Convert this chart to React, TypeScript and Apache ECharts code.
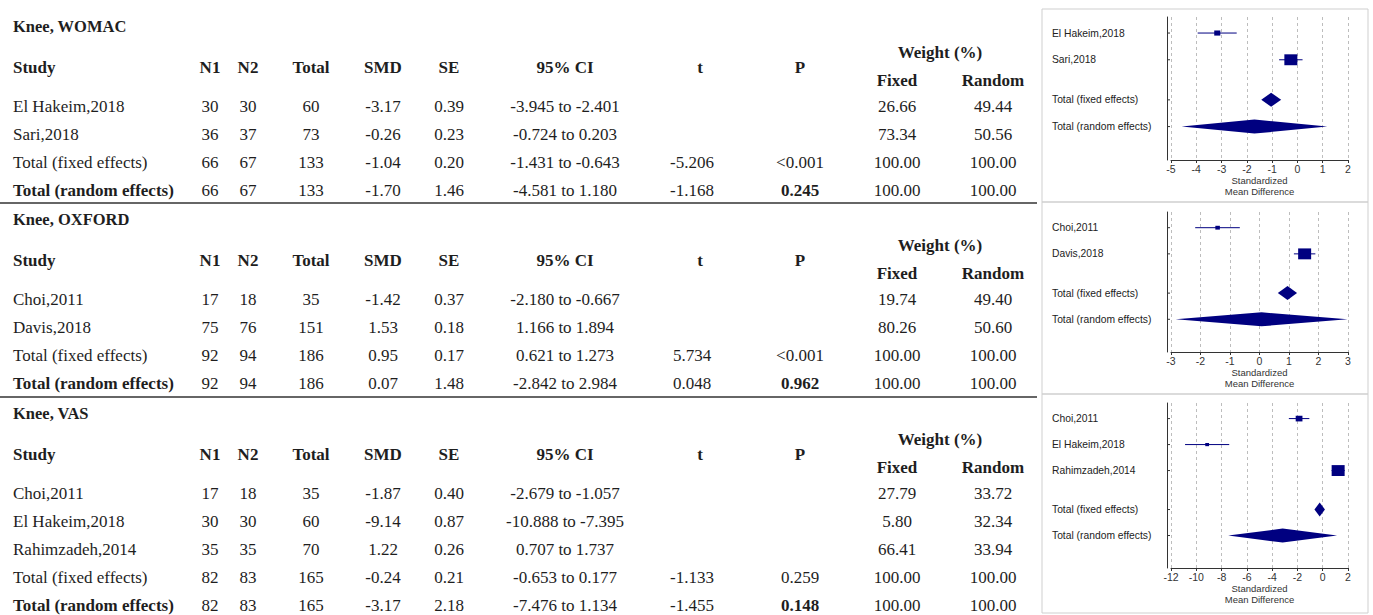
import React, { useEffect, useRef } from "react";
import * as echarts from "echarts";

// ---------------- Knee, WOMAC ----------------
const womacStudy = ["El Hakeim,2018", "Sari,2018", "Total (fixed effects)", "Total (random effects)"];
const womacN1 = [30, 36, 66, 66];
const womacN2 = [30, 37, 67, 67];
const womacTotal = [60, 73, 133, 133];
const womacSMD = [-3.17, -0.26, -1.04, -1.7];
const womacSE = [0.39, 0.23, 0.2, 1.46];
const womacLow = [-3.945, -0.724, -1.431, -4.581];
const womacHigh = [-2.401, 0.203, -0.643, 1.18];
const womacT = [null, null, -5.206, -1.168];
const womacP = ["", "", "<0.001", "0.245"];
const womacWFixed = [26.66, 73.34, 100, 100];
const womacWRandom = [49.44, 50.56, 100, 100];
const womacAxis = [-5, 2, 1];

// ---------------- Knee, OXFORD ----------------
const oxfordStudy = ["Choi,2011", "Davis,2018", "Total (fixed effects)", "Total (random effects)"];
const oxfordN1 = [17, 75, 92, 92];
const oxfordN2 = [18, 76, 94, 94];
const oxfordTotal = [35, 151, 186, 186];
const oxfordSMD = [-1.42, 1.53, 0.95, 0.07];
const oxfordSE = [0.37, 0.18, 0.17, 1.48];
const oxfordLow = [-2.18, 1.166, 0.621, -2.842];
const oxfordHigh = [-0.667, 1.894, 1.273, 2.984];
const oxfordT = [null, null, 5.734, 0.048];
const oxfordP = ["", "", "<0.001", "0.962"];
const oxfordWFixed = [19.74, 80.26, 100, 100];
const oxfordWRandom = [49.4, 50.6, 100, 100];
const oxfordAxis = [-3, 3, 1];

// ---------------- Knee, VAS ----------------
const vasStudy = ["Choi,2011", "El Hakeim,2018", "Rahimzadeh,2014", "Total (fixed effects)", "Total (random effects)"];
const vasN1 = [17, 30, 35, 82, 82];
const vasN2 = [18, 30, 35, 83, 83];
const vasTotal = [35, 60, 70, 165, 165];
const vasSMD = [-1.87, -9.14, 1.22, -0.24, -3.17];
const vasSE = [0.4, 0.87, 0.26, 0.21, 2.18];
const vasLow = [-2.679, -10.888, 0.707, -0.653, -7.476];
const vasHigh = [-1.057, -7.395, 1.737, 0.177, 1.134];
const vasT = [null, null, null, -1.133, -1.455];
const vasP = ["", "", "", "0.259", "0.148"];
const vasWFixed = [27.79, 5.8, 66.41, 100, 100];
const vasWRandom = [33.72, 32.34, 33.94, 100, 100];
const vasAxis = [-12, 2, 2];

const groups = [
  { title: "Knee, WOMAC", study: womacStudy, n1: womacN1, n2: womacN2, total: womacTotal, smd: womacSMD, se: womacSE, low: womacLow, high: womacHigh, t: womacT, p: womacP, wf: womacWFixed, wr: womacWRandom, axis: womacAxis },
  { title: "Knee, OXFORD", study: oxfordStudy, n1: oxfordN1, n2: oxfordN2, total: oxfordTotal, smd: oxfordSMD, se: oxfordSE, low: oxfordLow, high: oxfordHigh, t: oxfordT, p: oxfordP, wf: oxfordWFixed, wr: oxfordWRandom, axis: oxfordAxis },
  { title: "Knee, VAS", study: vasStudy, n1: vasN1, n2: vasN2, total: vasTotal, smd: vasSMD, se: vasSE, low: vasLow, high: vasHigh, t: vasT, p: vasP, wf: vasWFixed, wr: vasWRandom, axis: vasAxis },
];

// ---------------- layout ----------------
const groupOffset = [0, 193, 387];
const panelBox = [
  { y: 9, h: 193, gridTop: 17, gridH: 143 },
  { y: 202, h: 192, gridTop: 212, gridH: 140 },
  { y: 394, h: 219, gridTop: 403, gridH: 165 },
];
const SERIF = '"Liberation Serif", "Times New Roman", serif';
const SANS = '"Liberation Sans", Arial, sans-serif';
const NAVY = "#000080";
const TXT = "#1e1e1e";

const col = { n1: 210, n2: 248, total: 311, smd: 383, se: 449, ci: 565, t: 692, p: 800, wf: 897, wr: 993 };

function txt(x: number, y: number, text: string, bold = false, align = "center", size = 17) {
  return {
    type: "text",
    x,
    y,
    silent: true,
    style: {
      text,
      fontSize: size,
      fontFamily: SERIF,
      fontWeight: bold ? "bold" : "normal",
      fill: TXT,
      align,
      verticalAlign: "middle",
      textAlign: align,
      textVerticalAlign: "middle",
    },
  };
}

function buildTable() {
  const els: any[] = [];
  groups.forEach((g, gi) => {
    const off = groupOffset[gi];
    els.push(txt(13, 26 + off, g.title, true, "left", 16.5));
    els.push(txt(13, 67 + off, "Study", true, "left"));
    els.push(txt(col.n1, 67 + off, "N1", true));
    els.push(txt(col.n2, 67 + off, "N2", true));
    els.push(txt(col.total, 67 + off, "Total", true));
    els.push(txt(col.smd, 67 + off, "SMD", true));
    els.push(txt(col.se, 67 + off, "SE", true));
    els.push(txt(col.ci, 67 + off, "95% CI", true));
    els.push(txt(700, 67 + off, "t", true));
    els.push(txt(col.p, 67 + off, "P", true));
    els.push(txt(940, 52 + off, "Weight (%)", true));
    els.push(txt(col.wf, 80 + off, "Fixed", true));
    els.push(txt(col.wr, 80 + off, "Random", true));
    const n = g.study.length;
    g.study.forEach((name, i) => {
      const y = 106 + 28 * i + off;
      const isRandom = i === n - 1;
      els.push(txt(13, y, name, isRandom, "left"));
      els.push(txt(col.n1, y, String(g.n1[i])));
      els.push(txt(col.n2, y, String(g.n2[i])));
      els.push(txt(col.total, y, String(g.total[i])));
      els.push(txt(col.smd, y, g.smd[i].toFixed(2)));
      els.push(txt(col.se, y, g.se[i].toFixed(2)));
      els.push(txt(col.ci, y, g.low[i].toFixed(3) + " to " + g.high[i].toFixed(3)));
      if (g.t[i] !== null) els.push(txt(col.t, y, (g.t[i] as number).toFixed(3)));
      if (g.p[i]) els.push(txt(col.p, y, g.p[i], isRandom));
      els.push(txt(col.wf, y, g.wf[i].toFixed(2)));
      els.push(txt(col.wr, y, g.wr[i].toFixed(2)));
    });
  });
  // separators
  [203, 397].forEach((y) => {
    els.push({ type: "line", silent: true, shape: { x1: 0, y1: y, x2: 1037, y2: y }, style: { stroke: "#333", lineWidth: 1.5 } });
  });
  // forest panel frames
  panelBox.forEach((p) => {
    els.push({ type: "rect", silent: true, shape: { x: 1042, y: p.y, width: 326, height: p.h }, style: { fill: "none", stroke: "#cfcfcf", lineWidth: 1 } });
  });
  return els;
}

function rowPositions(n: number) {
  const k = n - 2;
  const pos: number[] = [];
  for (let i = 0; i < n; i++) pos.push(i < k ? i + 1 : k + 1.5 + (i - k));
  return pos;
}

export default function App() {
  const ref = useRef<HTMLDivElement>(null);
  useEffect(() => {
    if (!ref.current) return;
    const chart = echarts.init(ref.current, undefined, { renderer: "svg" });
    const grids: any[] = [];
    const xAxes: any[] = [];
    const yAxes: any[] = [];
    const series: any[] = [];
    groups.forEach((g, k) => {
      const n = g.study.length;
      const pos = rowPositions(n);
      const maxW = Math.max(...g.wf.slice(0, n - 2));
      grids.push({ left: 1171, width: 177, top: panelBox[k].gridTop, height: panelBox[k].gridH, containLabel: false });
      xAxes.push({
        gridIndex: k,
        type: "value",
        min: g.axis[0],
        max: g.axis[1],
        interval: g.axis[2],
        axisLine: { show: true, onZero: false, lineStyle: { color: "#333", width: 1 } },
        axisTick: { show: true, length: 3, lineStyle: { color: "#333" } },
        axisLabel: { fontSize: 10.5, fontFamily: SANS, color: "#333", margin: 3 },
        splitLine: { show: true, lineStyle: { color: "#bdbdbd", type: [3, 3], width: 1 } },
        name: "Standardized\nMean Difference",
        nameLocation: "middle",
        nameGap: 14,
        nameTextStyle: { fontSize: 9.5, fontFamily: SANS, color: "#333", lineHeight: 11, verticalAlign: "top" },
      });
      yAxes.push({
        gridIndex: k,
        type: "value",
        inverse: true,
        min: 0.4,
        max: pos[n - 1] + 1.25,
        offset: 4,
        axisLine: { show: true, onZero: false, lineStyle: { color: "#333", width: 1 } },
        axisTick: { show: false },
        axisLabel: { show: false },
        splitLine: { show: false },
      });
      const data = g.study.map((_, i) => [g.smd[i], g.low[i], g.high[i], pos[i], g.wf[i], i < n - 2 ? 0 : 1, i]);
      series.push({
        type: "custom",
        xAxisIndex: k,
        yAxisIndex: k,
        silent: true,
        clip: false,
        encode: { x: [0, 1, 2], y: 3 },
        data,
        renderItem: (params: any, api: any) => {
          const est = api.value(0);
          const lo = api.value(1);
          const hi = api.value(2);
          const p = api.value(3);
          const w = api.value(4);
          const kind = api.value(5);
          const idx = api.value(6);
          const c = api.coord([est, p]);
          const l = api.coord([lo, p]);
          const h = api.coord([hi, p]);
          const cs = params.coordSys;
          const children: any[] = [
            {
              type: "text",
              style: {
                text: g.study[idx],
                x: cs.x - 119,
                y: c[1],
                fontSize: 10.3,
                fontFamily: SANS,
                fill: "#222",
                align: "left",
                verticalAlign: "middle",
                textAlign: "left",
                textVerticalAlign: "middle",
              },
            },
            { type: "line", shape: { x1: cs.x - 4, y1: c[1], x2: cs.x - 1, y2: c[1] }, style: { stroke: "#333", lineWidth: 1 } },
          ];
          if (kind === 0) {
            children.push({ type: "line", shape: { x1: l[0], y1: l[1], x2: h[0], y2: h[1] }, style: { stroke: NAVY, lineWidth: 1 } });
            const s = Math.max(3.8, 13 * Math.pow(w / maxW, 0.75));
            children.push({ type: "rect", shape: { x: c[0] - s / 2, y: c[1] - s * 0.42, width: s, height: s * 0.84 }, style: { fill: NAVY } });
          } else {
            children.push({
              type: "polygon",
              shape: { points: [[l[0], l[1]], [c[0], c[1] - 7], [h[0], h[1]], [c[0], c[1] + 7]] },
              style: { fill: NAVY },
            });
          }
          return { type: "group", children };
        },
      });
    });
    chart.setOption({
      animation: false,
      backgroundColor: "#ffffff",
      grid: grids,
      xAxis: xAxes,
      yAxis: yAxes,
      series,
      graphic: { elements: buildTable() },
    });
    return () => chart.dispose();
  }, []);
  return <div ref={ref} style={{ position: "absolute", left: 0, top: 0, width: 1373, height: 615 }} />;
}
